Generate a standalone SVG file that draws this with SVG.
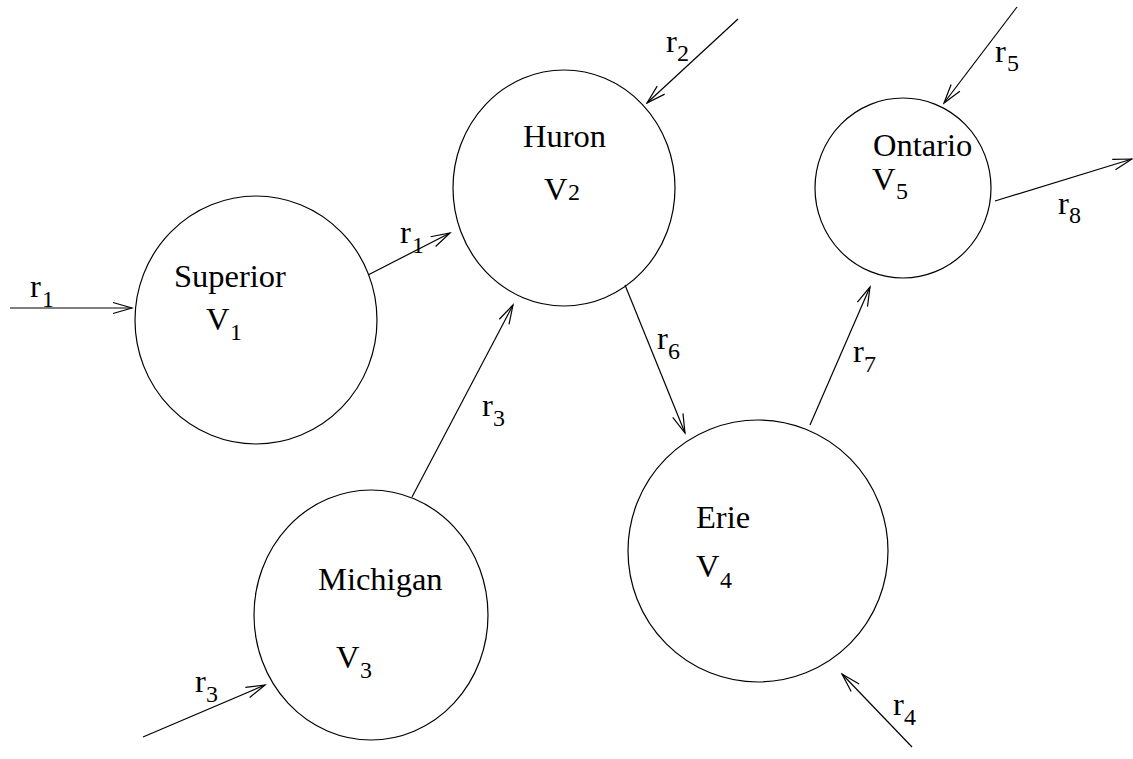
<svg xmlns="http://www.w3.org/2000/svg" width="1133" height="759" viewBox="0 0 1133 759">
<style>
.n{fill:none;stroke:#000;stroke-width:1.2}
.c{stroke:#000;stroke-width:1.2;fill:none;marker-end:url(#ah)}
text{font-family:"Liberation Serif","Times New Roman",serif;fill:#000}
.t{font-size:32.5px}
.s{font-size:24px}
</style>
<defs>
<marker id="ah" viewBox="-22 -8 24 16" refX="0" refY="0" markerWidth="24" markerHeight="16" markerUnits="userSpaceOnUse" orient="auto">
<path d="M-19,-5.5 L0,0 L-19,5.5" fill="none" stroke="#000" stroke-width="1.2"/>
</marker>
</defs>
<rect width="1133" height="759" fill="#fff"/>
<g id="connectors">
<line class="c" x1="10" y1="308" x2="132" y2="308"/>
<line class="c" x1="368" y1="275" x2="450" y2="233"/>
<line class="c" x1="738" y1="19" x2="647" y2="103"/>
<line class="c" x1="1017" y1="7" x2="944" y2="103"/>
<line class="c" x1="995" y1="201" x2="1132" y2="159"/>
<line class="c" x1="625" y1="285" x2="685" y2="433"/>
<line class="c" x1="810" y1="425" x2="870" y2="287"/>
<line class="c" x1="912" y1="747" x2="842" y2="674"/>
<line class="c" x1="143" y1="737" x2="265" y2="685"/>
<line class="c" x1="412" y1="497" x2="513" y2="305"/>
<text class="t" x="30" y="297">r</text><text class="s" x="42" y="307">1</text>
<text class="t" x="400" y="243">r</text><text class="s" x="412" y="253">1</text>
<text class="t" x="666" y="52">r</text><text class="s" x="677" y="61">2</text>
<text class="t" x="995" y="62">r</text><text class="s" x="1007" y="71">5</text>
<text class="t" x="1058" y="214">r</text><text class="s" x="1069" y="223">8</text>
<text class="t" x="657" y="349">r</text><text class="s" x="668" y="359">6</text>
<text class="t" x="853" y="362">r</text><text class="s" x="864" y="372">7</text>
<text class="t" x="893" y="715">r</text><text class="s" x="904" y="725">4</text>
<text class="t" x="195" y="692">r</text><text class="s" x="206" y="702">3</text>
<text class="t" x="482" y="416">r</text><text class="s" x="493" y="426">3</text>
</g>
<g id="superior">
<ellipse class="n" cx="256" cy="320" rx="121" ry="124"/>
<text class="t" x="174" y="287">Superior</text>
<text class="t" x="206" y="330">V</text><text class="s" x="230" y="340">1</text>
</g>
<g id="huron">
<ellipse class="n" cx="564" cy="188" rx="111" ry="118"/>
<text class="t" x="523" y="147">Huron</text>
<text class="t" x="544" y="200">V</text><text class="s" x="568" y="200">2</text>
</g>
<g id="ontario">
<ellipse class="n" cx="903" cy="188" rx="88" ry="90"/>
<text class="t" x="873" y="156">Ontario</text>
<text class="t" x="872" y="190">V</text><text class="s" x="896" y="199">5</text>
</g>
<g id="erie">
<ellipse class="n" cx="758" cy="551" rx="130" ry="131"/>
<text class="t" x="696" y="528">Erie</text>
<text class="t" x="696" y="577">V</text><text class="s" x="720" y="588">4</text>
</g>
<g id="michigan">
<ellipse class="n" cx="371" cy="615" rx="117" ry="125"/>
<text class="t" x="318" y="590">Michigan</text>
<text class="t" x="336" y="668">V</text><text class="s" x="360" y="678">3</text>
</g>
</svg>
